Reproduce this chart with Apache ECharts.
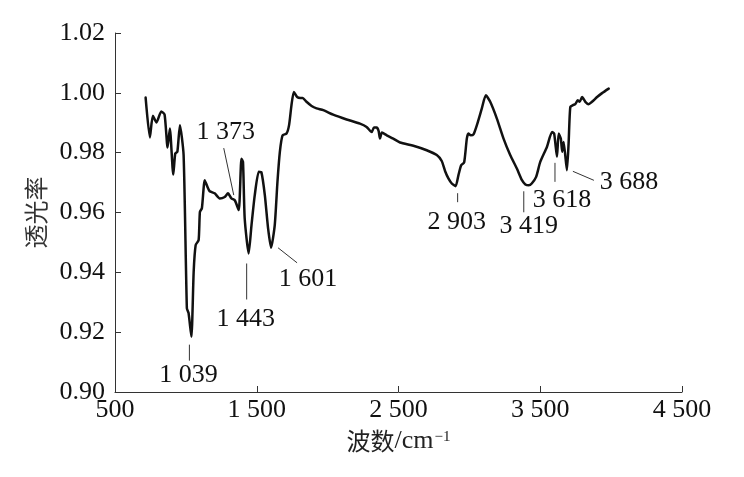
<!DOCTYPE html>
<html><head><meta charset="utf-8">
<script src="https://cdn.jsdelivr.net/npm/echarts@6/dist/echarts.min.js"></script>
<style>html,body{margin:0;padding:0;background:#fff}#c{width:744px;height:477px}</style>
</head><body><div id="c"></div>
<script>
// ---- data ----
const wavenumbers = [716,746,767,793,826,850,871,887,911,925,940,958,984,1007,1019,1039,1055,1069,1090,1099,1113,1133,1152,1168,1203,1239,1274,1297,1321,1345,1373,1392,1403,1415,1443,1463,1486,1514,1533,1557,1580,1601,1627,1646,1663,1682,1710,1728,1745,1762,1785,1809,1823,1851,1887,1922,1969,2039,2134,2228,2275,2311,2327,2346,2360,2369,2383,2417,2463,2511,2605,2699,2770,2805,2829,2852,2876,2903,2923,2942,2963,2982,2993,3010,3029,3053,3088,3116,3147,3194,3241,3288,3335,3371,3395,3419,3440,3471,3500,3547,3583,3598,3618,3630,3645,3655,3665,3688,3700,3712,3731,3747,3764,3778,3795,3818,3841,3865,3901,3936,3983];
const transmittance = [0.9984,0.9851,0.9923,0.9901,0.9938,0.9927,0.9817,0.9881,0.9727,0.9797,0.9803,0.9892,0.9792,0.9280,0.9264,0.9185,0.9402,0.9491,0.9508,0.9602,0.9614,0.9708,0.9686,0.9671,0.9664,0.9647,0.9652,0.9664,0.9647,0.9641,0.9608,0.9780,0.9769,0.9580,0.9463,0.9558,0.9658,0.9736,0.9734,0.9658,0.9547,0.9482,0.9558,0.9702,0.9803,0.9858,0.9864,0.9892,0.9959,1.0003,0.9986,0.9983,0.9983,0.9970,0.9956,0.9948,0.9942,0.9927,0.9911,0.9897,0.9886,0.9869,0.9884,0.9884,0.9872,0.9847,0.9867,0.9858,0.9847,0.9834,0.9823,0.9808,0.9792,0.9772,0.9738,0.9714,0.9697,0.9688,0.9725,0.9758,0.9767,0.9847,0.9864,0.9858,0.9861,0.9892,0.9948,0.9992,0.9970,0.9914,0.9847,0.9792,0.9747,0.9708,0.9694,0.9691,0.9697,0.9719,0.9769,0.9819,0.9869,0.9864,0.9786,0.9864,0.9847,0.9803,0.9836,0.9741,0.9831,0.9953,0.9959,0.9962,0.9975,0.9970,0.9986,0.9970,0.9962,0.9970,0.9986,0.9999,1.0014];
const xTicks = [500,1500,2500,3500,4500];
const yTicks = [0.90,0.92,0.94,0.96,0.98,1.00,1.02];
const peakLabels = ['1 039','1 373','1 443','1 601','2 903','3 419','3 618','3 688'];
const peakWavenumbers = [1039,1373,1443,1601,2903,3419,3618,3688];

// ---- layout of the annotations (pixel offsets from the curve point) ----
const annotLayout = [
  {line:[-2,8,-2,24],   text:[-3,39]},
  {line:[-15,-62,-5,-15], text:[-13,-78]},
  {line:[-2,10,-2,46],  text:[-3,66]},
  {line:[7,0,26,15],    text:[37,31]},
  {line:[2,7,2,16],     text:[1,36]},
  {line:[-5,6,-5,27],   text:[0,41]},
  {line:[-2,6,-2,25],   text:[5,43]},
  {line:[6,1,27,10],    text:[62,12]}
];

const serif = "'Liberation Serif','Times New Roman',serif";
const cjk = "'Noto Sans CJK SC',sans-serif";

function fmtThousands(v){
  if (v >= 1000) return Math.floor(v/1000) + ' ' + String(v % 1000).padStart(3,'0');
  return String(v);
}
function valueAt(wn){
  for (let i=0;i<wavenumbers.length-1;i++){
    if (wn>=wavenumbers[i] && wn<=wavenumbers[i+1]){
      const t=(wn-wavenumbers[i])/(wavenumbers[i+1]-wavenumbers[i]);
      return transmittance[i]+t*(transmittance[i+1]-transmittance[i]);
    }
  }
  return transmittance[transmittance.length-1];
}

const chart = echarts.init(document.getElementById('c'), null, {renderer:'canvas'});
const axisColor = '#333';
chart.setOption({
  animation:false,
  backgroundColor:'#fff',
  grid:{left:115, right:62, top:33, bottom:85, containLabel:false},
  xAxis:{
    type:'value', min:xTicks[0], max:xTicks[xTicks.length-1], interval:xTicks[1]-xTicks[0],
    axisLine:{show:true, lineStyle:{color:axisColor, width:1}},
    axisTick:{show:true, inside:true, length:6, lineStyle:{color:axisColor}},
    splitLine:{show:false},
    axisLabel:{fontFamily:serif, fontSize:26, color:'#111', margin:5, formatter:fmtThousands},
    name:'{a|波数}{b|/cm}{c|−1}', nameLocation:'middle', nameGap:34,
    nameTextStyle:{rich:{
      a:{fontFamily:cjk, fontSize:24, color:'#222'},
      b:{fontFamily:serif, fontSize:26, color:'#222'},
      c:{fontFamily:serif, fontSize:15, color:'#222', verticalAlign:'top', padding:[2,0,0,1]}
    }}
  },
  yAxis:{
    type:'value', min:yTicks[0], max:yTicks[yTicks.length-1], interval:0.02,
    axisLine:{show:true, lineStyle:{color:axisColor, width:1}},
    axisTick:{show:true, inside:true, length:6, lineStyle:{color:axisColor}},
    splitLine:{show:false},
    axisLabel:{fontFamily:serif, fontSize:26, color:'#111', margin:10, formatter:v=>v.toFixed(2)},
    name:'透光率', nameLocation:'middle', nameGap:67,
    nameTextStyle:{fontFamily:cjk, fontSize:24, color:'#333'}
  },
  series:[{
    type:'line', showSymbol:false, smooth:0.2,
    data: wavenumbers.map((w,i)=>[w, transmittance[i]]),
    lineStyle:{color:'#111', width:2.5, join:'round', cap:'round'}
  }]
});

const graphics = [];
peakWavenumbers.forEach((wn,i)=>{
  const p = chart.convertToPixel({gridIndex:0},[wn, valueAt(wn)]);
  const L = annotLayout[i];
  graphics.push({type:'line', silent:true,
    shape:{x1:p[0]+L.line[0], y1:p[1]+L.line[1], x2:p[0]+L.line[2], y2:p[1]+L.line[3]},
    style:{stroke:'#333', lineWidth:1}});
  graphics.push({type:'text', silent:true, x:p[0]+L.text[0], y:p[1]+L.text[1],
    style:{text:peakLabels[i], font:'26px '+serif, fill:'#111', align:'center', verticalAlign:'middle'}});
});
chart.setOption({graphic:graphics});
</script>
</body></html>
